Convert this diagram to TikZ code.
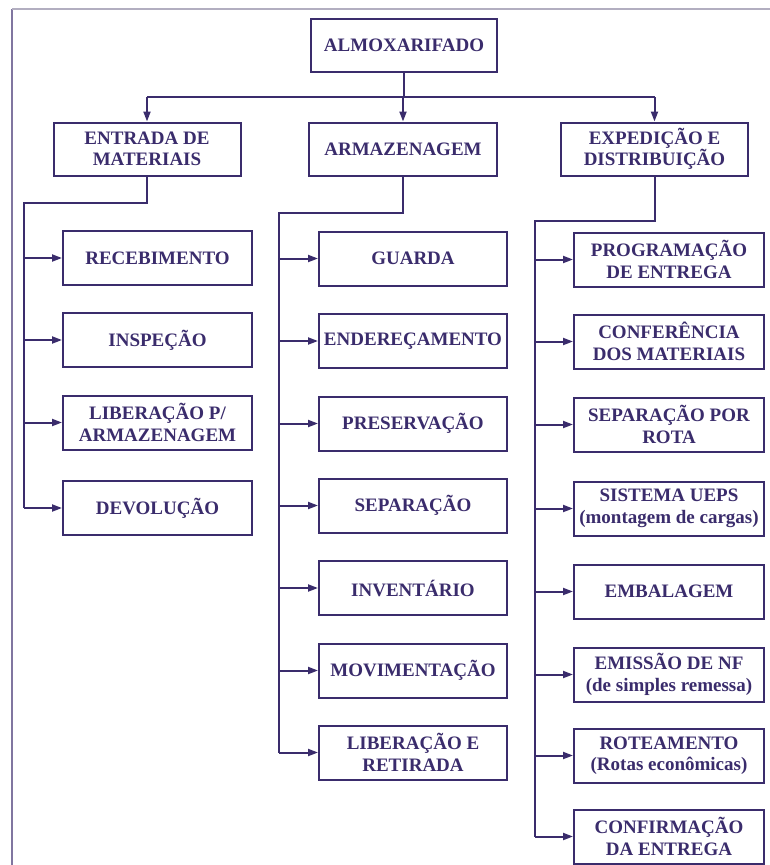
\documentclass[tikz,border=0pt]{standalone}
\usepackage{fontspec}
\setmainfont{Liberation Serif}
\usetikzlibrary{arrows.meta}
\definecolor{ink}{RGB}{58,44,108}
\definecolor{frameleft}{RGB}{128,118,160}
\definecolor{frametop}{RGB}{178,174,192}
\begin{document}
\begin{tikzpicture}[x=1pt,y=-1pt,
  box/.style={draw=ink, line width=2pt, fill=white, rectangle, inner sep=0pt,
    align=center, text=ink, font=\bfseries\fontsize{19}{21.5}\selectfont,
    minimum height=54pt},
  lbox/.style={box, minimum width=189pt},
  mbox/.style={box, minimum width=188pt},
  rbox/.style={box, minimum width=190pt},
  wire/.style={draw=ink, line width=2pt},
  arr/.style={wire, -{Triangle[length=10pt,width=7pt]}}]
\useasboundingbox (0,0) rectangle (770,865);
\fill[white] (0,0) rectangle (770,865);

% page frame
\draw[frameleft, line width=2pt] (12,865) -- (12,9);
\draw[frametop, line width=2pt] (12,9) -- (770,9);

% top level
\node[box, minimum width=186pt, minimum height=53pt] (root) at (404,45.5) {ALMOXARIFADO};

% second level
\node[box, minimum width=187pt, minimum height=53pt] (ent) at (147,149) {ENTRADA DE\\MATERIAIS};
\node[box, minimum width=188pt, minimum height=53pt] (arm) at (403,149) {ARMAZENAGEM};
\node[box, minimum width=187pt, minimum height=53pt] (exp) at (654.5,149) {EXPEDIÇÃO E\\DISTRIBUIÇÃO};

% entrada de materiais
\node[lbox] (e1) at (157.5,258) {RECEBIMENTO};
\node[lbox] (e2) at (157.5,340) {INSPEÇÃO};
\node[lbox] (e3) at (157.5,422.5) {LIBERAÇÃO P/\\ARMAZENAGEM};
\node[lbox] (e4) at (157.5,508) {DEVOLUÇÃO};

% armazenagem
\node[mbox] (a1) at (413,258.5) {GUARDA};
\node[mbox] (a2) at (413,341) {ENDEREÇAMENTO};
\node[mbox] (a3) at (413,423.5) {PRESERVAÇÃO};
\node[mbox] (a4) at (413,505.5) {SEPARAÇÃO};
\node[mbox] (a5) at (413,588) {INVENTÁRIO};
\node[mbox] (a6) at (413,670.5) {MOVIMENTAÇÃO};
\node[mbox] (a7) at (413,752.5) {LIBERAÇÃO E\\RETIRADA};

% expedição e distribuição
\node[rbox] (x1) at (669,259.5) {PROGRAMAÇÃO\\DE ENTREGA};
\node[rbox] (x2) at (669,341.5) {CONFERÊNCIA\\DOS MATERIAIS};
\node[rbox] (x3) at (669,424.5) {SEPARAÇÃO POR\\ROTA};
\node[rbox] (x4) at (669,508.5) {SISTEMA UEPS\\(montagem de cargas)};
\node[rbox] (x5) at (669,591.5) {EMBALAGEM};
\node[rbox] (x6) at (669,674.5) {EMISSÃO DE NF\\(de simples remessa)};
\node[rbox] (x7) at (669,755.5) {ROTEAMENTO\\(Rotas econômicas)};
\node[rbox] (x8) at (669,836.5) {CONFIRMAÇÃO\\DA ENTREGA};

% bus from the root to the second level
\coordinate (bus) at (404,97);
\draw[wire] (root.south) -- (bus);
\draw[wire] (ent.north |- bus) -- (exp.north |- bus);
\draw[arr] (ent.north |- bus) -- (ent.north);
\draw[arr] (arm.north |- bus) -- (arm.north);
\draw[arr] (exp.north |- bus) -- (exp.north);

% trunk of entrada de materiais
\coordinate (et) at (24,203);
\draw[wire] (ent.south) |- (et) -- (et |- e4.west);
\foreach \n in {e1,e2,e3,e4} \draw[arr] (et |- \n.west) -- (\n.west);

% trunk of armazenagem
\coordinate (at) at (279,213);
\draw[wire] (arm.south) |- (at) -- (at |- a7.west);
\foreach \n in {a1,a2,a3,a4,a5,a6,a7} \draw[arr] (at |- \n.west) -- (\n.west);

% trunk of expedição e distribuição
\coordinate (xt) at (535,221);
\draw[wire] (exp.south) |- (xt) -- (xt |- x8.west);
\foreach \n in {x1,x2,x3,x4,x5,x6,x7,x8} \draw[arr] (xt |- \n.west) -- (\n.west);
\end{tikzpicture}
\end{document}
